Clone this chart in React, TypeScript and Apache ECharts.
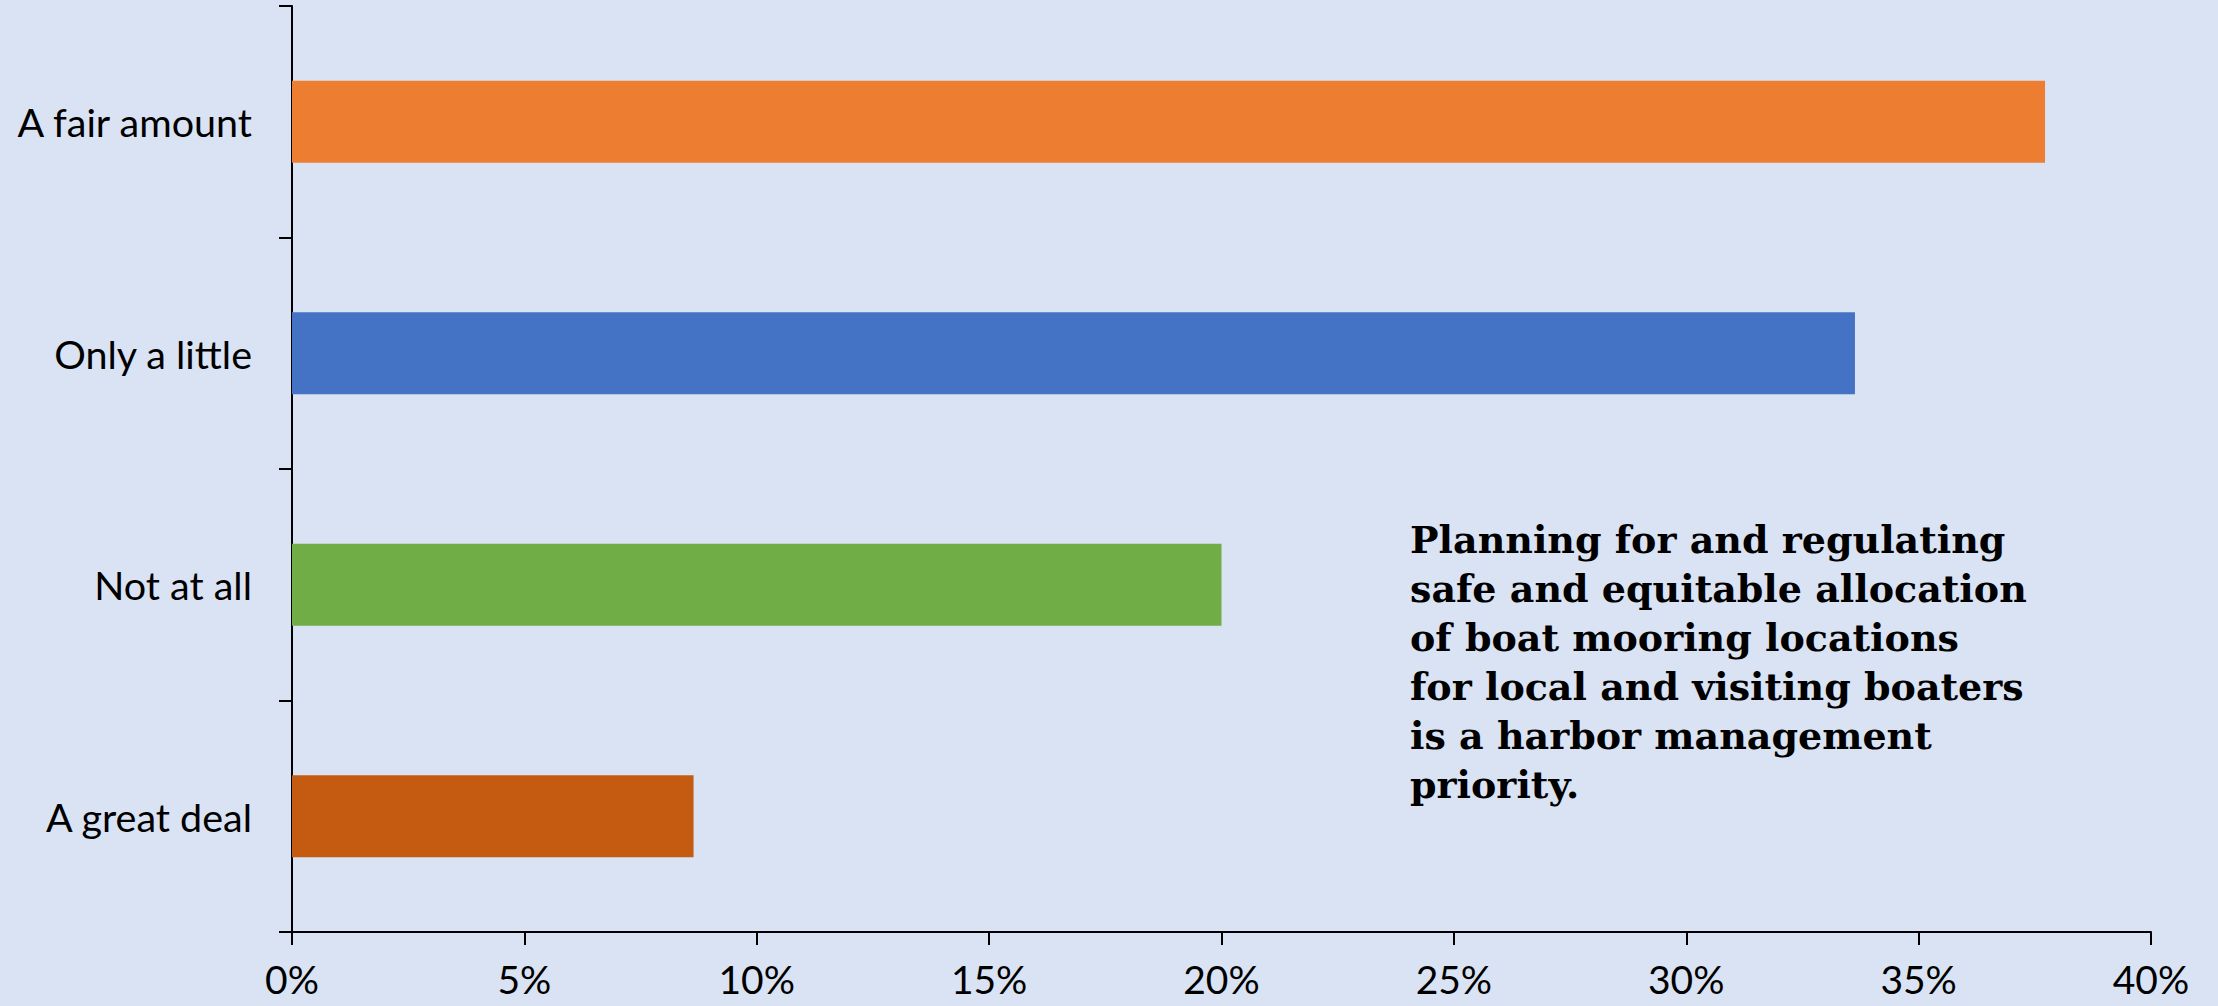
import React, { useEffect, useRef } from "react";
import * as echarts from "echarts";

// Categories listed bottom-to-top (ECharts category y-axis order)
const categories = ["A great deal", "Not at all", "Only a little", "A fair amount"];
const values = [8.64, 20.0, 33.63, 37.72];
const barColors = ["#C55A11", "#70AD47", "#4472C4", "#ED7D31"];
const xTicks = [0, 5, 10, 15, 20, 25, 30, 35, 40];
const noteLines = [
  "Planning for and regulating",
  "safe and equitable allocation",
  "of boat mooring locations",
  "for local and visiting boaters",
  "is a harbor management",
  "priority.",
];

export default function App() {
  const ref = useRef<HTMLDivElement>(null);
  useEffect(() => {
    if (!ref.current) return;
    const chart = echarts.init(ref.current, null, { renderer: "svg" });
    chart.setOption({
      animation: false,
      backgroundColor: "#DAE3F3",
      grid: { left: 292, right: 67, top: 6, bottom: 74, containLabel: false },
      xAxis: {
        type: "value",
        min: xTicks[0],
        max: xTicks[xTicks.length - 1],
        interval: 5,
        axisLine: { show: true, lineStyle: { color: "#000", width: 2 } },
        axisTick: { show: true, length: 13, lineStyle: { color: "#000", width: 2 } },
        splitLine: { show: false },
        axisLabel: {
          formatter: (v: number) => v + "%",
          fontFamily: "Lato",
          fontSize: 39,
          color: "#000",
          margin: 27,
        },
      },
      yAxis: {
        type: "category",
        data: categories,
        axisLine: { show: true, lineStyle: { color: "#000", width: 2 } },
        axisTick: { show: true, length: 13, lineStyle: { color: "#000", width: 2 } },
        axisLabel: {
          fontFamily: "Lato",
          fontSize: 39.5,
          color: "#000",
          margin: 40,
        },
      },
      series: [
        {
          type: "bar",
          barWidth: "35.4%",
          data: values.map((v, i) => ({ value: v, itemStyle: { color: barColors[i] } })),
        },
      ],
      graphic: [
        {
          type: "text",
          left: 1410,
          top: 515,
          style: {
            text: noteLines.join("\n"),
            font: "bold 38px 'DejaVu Serif'",
            lineHeight: 49,
            fill: "#000",
          },
        },
      ],
    });
    return () => chart.dispose();
  }, []);
  return (
    <div
      ref={ref}
      style={{ position: "absolute", left: 0, top: 0, width: 2218, height: 1006 }}
    />
  );
}
